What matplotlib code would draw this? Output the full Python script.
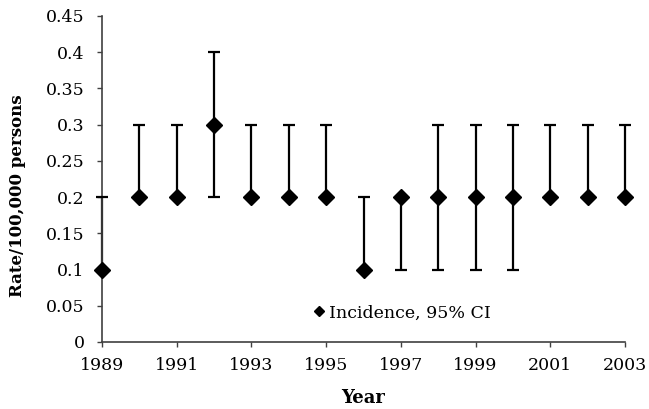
import matplotlib
matplotlib.use('Agg')
import matplotlib.pyplot as plt
from matplotlib.lines import Line2D

years = [1989, 1990, 1991, 1992, 1993, 1994, 1995, 1996,
         1997, 1998, 1999, 2000, 2001, 2002, 2003]
rate = [0.1, 0.2, 0.2, 0.3, 0.2, 0.2, 0.2, 0.1,
        0.2, 0.2, 0.2, 0.2, 0.2, 0.2, 0.2]
ci_low = [0.1, 0.2, 0.2, 0.2, 0.2, 0.2, 0.2, 0.1,
          0.1, 0.1, 0.1, 0.1, 0.2, 0.2, 0.2]
ci_high = [0.2, 0.3, 0.3, 0.4, 0.3, 0.3, 0.3, 0.2,
           0.2, 0.3, 0.3, 0.3, 0.3, 0.3, 0.3]
y_ticks = [0, 0.05, 0.1, 0.15, 0.2, 0.25, 0.3, 0.35, 0.4, 0.45]
y_labels = ['0', '0.05', '0.1', '0.15', '0.2', '0.25', '0.3', '0.35', '0.4', '0.45']
x_ticks = [1989, 1991, 1993, 1995, 1997, 1999, 2001, 2003]

plt.rcParams['font.family'] = ['DejaVu Serif']

fig = plt.figure(figsize=(6.49, 4.09), dpi=100)
ax = fig.add_axes([102 / 649, 1 - 342 / 409, 523 / 649, 326 / 409])

# CI bars, caps only where the interval extends past the point
ax.vlines(years, ci_low, ci_high, color='black', lw=1.6, zorder=2, clip_on=False)
cap_hi = [(x, h) for x, h, r in zip(years, ci_high, rate) if h != r]
cap_lo = [(x, l) for x, l, r in zip(years, ci_low, rate) if l != r]
for caps in (cap_hi, cap_lo):
    ax.plot([c[0] for c in caps], [c[1] for c in caps], linestyle='none',
            marker='_', ms=9, mew=1.6, color='black', zorder=4, clip_on=False)
ax.plot(years, rate, linestyle='none', marker='D', ms=7.7, color='black',
        zorder=3, clip_on=False)

ax.set_xlim(1989, 2003)
ax.set_ylim(0, 0.45)
ax.set_xticks(x_ticks)
ax.set_xticklabels([str(y) for y in x_ticks])
ax.set_yticks(y_ticks)
ax.set_yticklabels(y_labels)
ax.tick_params(axis='both', labelsize=12.5, direction='out', length=3.6,
               width=1, color='#404040')
ax.tick_params(axis='y', pad=9)
ax.tick_params(axis='x', pad=7)

for side in ['top', 'right']:
    ax.spines[side].set_visible(False)
for side in ['left', 'bottom']:
    ax.spines[side].set_color('#404040')
    ax.spines[side].set_linewidth(1.2)

ax.set_xlabel('Year', fontsize=13, fontweight='bold', va='center')
ax.set_ylabel('Rate/100,000 persons', fontsize=12, fontweight='bold', va='center')
ax.xaxis.set_label_coords(0.5, -0.172)
ax.yaxis.set_label_coords(-0.161, 0.448)

handle = Line2D([], [], marker='D', color='black', linestyle='none', ms=5.5)
ax.legend([handle], ['Incidence, 95% CI'], loc='center left',
          bbox_to_anchor=(0.378, 0.089), frameon=False, fontsize=12.5,
          handletextpad=0.0, handlelength=1.2, borderpad=0)

fig.savefig('out.png', dpi=100)
